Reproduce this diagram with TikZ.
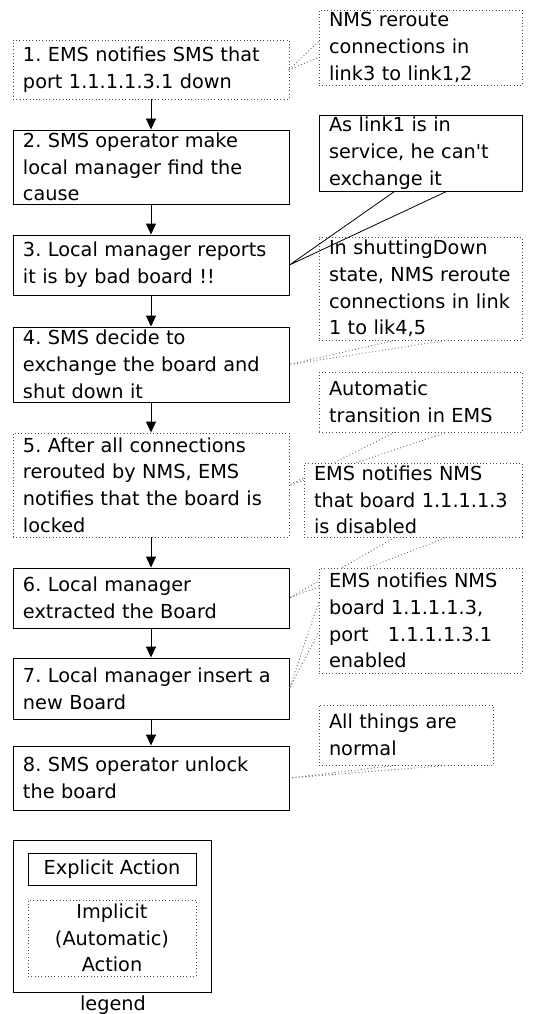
\documentclass[tikz,border=0pt]{standalone}
\usepackage{fontspec}
\setmainfont{DejaVu Sans}
\usetikzlibrary{arrows.meta,calc}
\begin{document}
\frenchspacing
\begin{tikzpicture}[x=1pt,y=-1pt,
  every node/.style={font=\fontsize{19.3}{26.7}\selectfont, inner ysep=0pt, inner xsep=10pt},
  act/.style={draw=black, line width=0.9pt, fill=white, text width=256pt, align=left},
  imp/.style={draw=black!70, dash pattern=on 0.9pt off 2.4pt, line width=0.9pt, fill=white, text width=256pt, align=left},
  note/.style={draw=black!70, dash pattern=on 0.9pt off 2.4pt, line width=0.9pt, fill=white, align=left},
  snote/.style={draw=black, line width=0.9pt, fill=white, align=left},
  flow/.style={line width=0.9pt, -{Triangle[width=10pt,length=11pt]}},
  tail/.style={line width=0.8pt},
  dtail/.style={draw=black!60, dash pattern=on 0.9pt off 2.4pt, line width=0.9pt}
]
\useasboundingbox (0,0) rectangle (544,1014);

% main flow
\node[imp, minimum height=59pt] (b1) at (151,69.5) {1. EMS notifies SMS that\\port 1.1.1.1.3.1 down};
\node[act, minimum height=74pt] (b2) at (151,167) {2. SMS operator make\\local manager find the\\cause};
\node[act, minimum height=60pt] (b3) at (151,265) {3. Local manager reports\\it is by bad board !!};
\node[act, minimum height=75pt] (b4) at (151,364.5) {4. SMS decide to\\exchange the board and\\shut down it};
\node[imp, minimum height=104pt] (b5) at (151,485) {5. After all connections\\rerouted by NMS, EMS\\notifies that the board is\\locked};
\node[act, minimum height=60pt] (b6) at (151,598) {6. Local manager\\extracted the Board};
\node[act, minimum height=61pt] (b7) at (151,688.5) {7. Local manager insert a\\new Board};
\node[act, minimum height=64pt] (b8) at (151,778) {8. SMS operator unlock\\the board};

\draw[flow] (b1.south) -- (b2.north);
\draw[flow] (b2.south) -- (b3.north);
\draw[flow] (b3.south) -- (b4.north);
\draw[flow] (b4.south) -- (b5.north);
\draw[flow] (b5.south) -- (b6.north);
\draw[flow] (b6.south) -- (b7.north);
\draw[flow] (b7.south) -- (b8.north);

% notes
\node[note, text width=183pt, minimum height=75pt] (nA) at (420.5,47.5) {NMS reroute\\connections in\\link3 to link1,2};
\node[snote, text width=183pt, minimum height=76pt] (nB) at (420.5,153) {As link1 is in\\service, he can\textquotesingle t\\exchange it};
\node[note, text width=183pt, minimum height=103pt] (nC) at (420.5,288.5) {In shuttingDown\\state, NMS reroute\\connections in link\\1 to lik4,5};
\node[note, text width=183pt, minimum height=60pt] (nD) at (420.5,402) {Automatic\\transition in EMS};

\draw[dtail] ($(nA.north west)+(0,32)$) -- (b1.east) -- ($(nA.north west)+(0,48)$);
\draw[tail] ($(nB.south west)+(76,0)$) -- (b3.east) -- ($(nB.south west)+(128,0)$);
\draw[dtail] ($(nC.south west)+(76,0)$) -- (b4.east) -- ($(nC.south west)+(128,0)$);
\draw[dtail] ($(nD.south west)+(76,0)$) -- (b5.east) -- ($(nD.south west)+(128,0)$);

\node[note, text width=198pt, minimum height=74pt] (nE) at (413,500) {EMS notifies NMS\\that board 1.1.1.1.3\\is disabled};
\draw[dtail] ($(nE.south west)+(91,0)$) -- (b6.east) -- ($(nE.south west)+(143,0)$);

\node[note, text width=183pt, minimum height=105pt] (nF) at (420.5,620.5) {EMS notifies NMS\\board 1.1.1.1.3,\\port\ \ \ 1.1.1.1.3.1\\enabled};
\draw[dtail] ($(nF.north west)+(0,35)$) -- (b7.east) -- ($(nF.north west)+(0,65)$);

\node[note, text width=154pt, minimum height=60pt] (nG) at (406,735) {All things are\\normal};
\draw[dtail] ($(nG.south west)+(76,0)$) -- (b8.east) -- ($(nG.south west)+(128,0)$);

% legend
\node[snote, minimum width=198pt, minimum height=152pt] (lg) at (112,916) {};
\node[snote, minimum width=168pt, minimum height=32pt, inner xsep=0pt] (lgA) at (112,869) {Explicit Action};
\node[note, align=center, minimum width=168pt, minimum height=76pt, inner xsep=0pt] (lgI) at (112,938) {Implicit\\(Automatic)\\Action};
\node (lgT) at (113,1005) {legend};
\end{tikzpicture}
\end{document}
